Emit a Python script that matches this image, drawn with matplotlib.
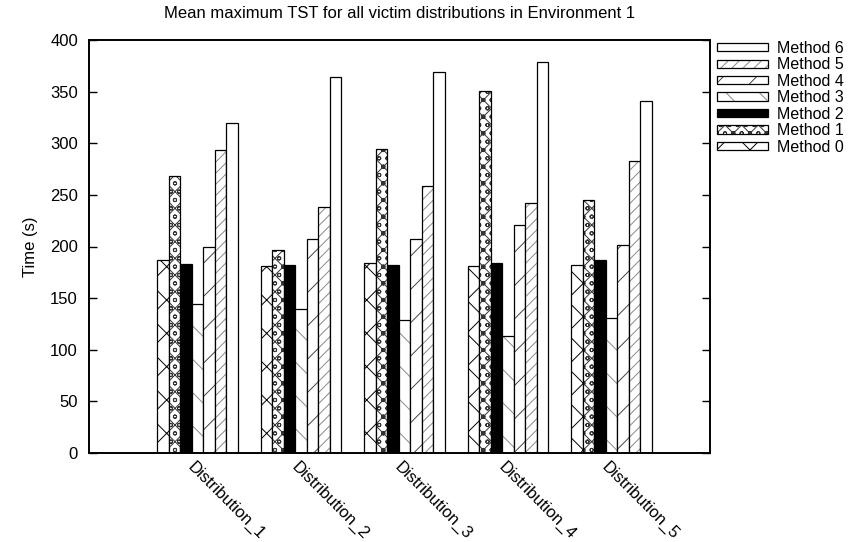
import numpy as np
import matplotlib
matplotlib.use("Agg")
import matplotlib.pyplot as plt
from matplotlib.transforms import ScaledTranslation
from matplotlib.legend_handler import HandlerTuple

categories = ["Distribution_1", "Distribution_2", "Distribution_3", "Distribution_4", "Distribution_5"]
method_names = ["Method 0", "Method 1", "Method 2", "Method 3", "Method 4", "Method 5", "Method 6"]
method0 = [187, 181, 184, 181, 182]
method1 = [268.5, 196.5, 294, 350.5, 245]
method2 = [183, 182, 182, 184.5, 187]
method3 = [144, 139, 129, 113, 130.5]
method4 = [199.5, 207, 207, 220.5, 201]
method5 = [293.5, 238.5, 259, 242, 282.5]
method6 = [319.5, 364, 369, 378.5, 341]
series = [method0, method1, method2, method3, method4, method5, method6]
yticks = [0, 50, 100, 150, 200, 250, 300, 350, 400]

plt.rcParams['font.family'] = ['Liberation Sans', 'DejaVu Sans']
plt.rcParams['font.size'] = 12
plt.rcParams['hatch.linewidth'] = 0.7

W, H = 849, 542
fig = plt.figure(figsize=(W / 100, H / 100), dpi=100)
ax = fig.add_axes([89 / W, 1 - 453 / H, (710 - 89) / W, (453 - 40) / H])

# (facecolor, hatch, hatch colour)
styles = [
    ('white', 'x', 'black'),
    ('white', 'xxoo', '#333333'),
    ('black', None, 'black'),
    ('white', '\\', '#8a8a8a'),
    ('white', '/', '#444444'),
    ('white', '///', '#8a8a8a'),
    ('white', None, 'black'),
]

x = np.arange(len(categories))
bw = 1 / 9
handles = []
for j, vals in enumerate(series):
    fc, hatch, hc = styles[j]
    pos = x + (j - 3) * bw
    fill = ax.bar(pos, vals, width=bw, facecolor=fc, hatch=hatch, edgecolor=hc, linewidth=0)
    outline = ax.bar(pos, vals, width=bw, facecolor='none', edgecolor='black', linewidth=0.9)
    handles.append((fill, outline))

ax.set_xlim(-1.048, 4.952)
ax.set_ylim(0, 400)
ax.set_yticks(yticks)
ax.tick_params(axis='y', direction='in', length=6, width=1, left=True, right=True, pad=8)
ax.tick_params(axis='x', length=0, pad=10.8)
for s in ax.spines.values():
    s.set_linewidth(1.4)

ax.set_xticks(x)
ax.set_xticklabels(categories, rotation=-45, ha='left', va='baseline', rotation_mode='anchor')
for lab in ax.get_xticklabels():
    lab.set_transform(lab.get_transform() + ScaledTranslation(-0.105, 0, fig.dpi_scale_trans))

fig.text(30 / W, 1 - 246.5 / H, "Time (s)", rotation=90, ha='center', va='center')
fig.text(399.5 / W, 1 - 14 / H, "Mean maximum TST for all victim distributions in Environment 1",
         ha='center', va='center')

leg = fig.legend(handles[::-1], method_names[::-1], loc='upper left',
                 bbox_to_anchor=(717 / W, 1 - 41 / H), bbox_transform=fig.transFigure,
                 frameon=False, borderpad=0, borderaxespad=0, handlelength=3.2,
                 handleheight=0.42, handletextpad=0.55, labelspacing=0.09,
                 prop={'size': 11.5},
                 handler_map={tuple: HandlerTuple(ndivide=1, pad=0)})

fig.savefig("out.png", dpi=100)
